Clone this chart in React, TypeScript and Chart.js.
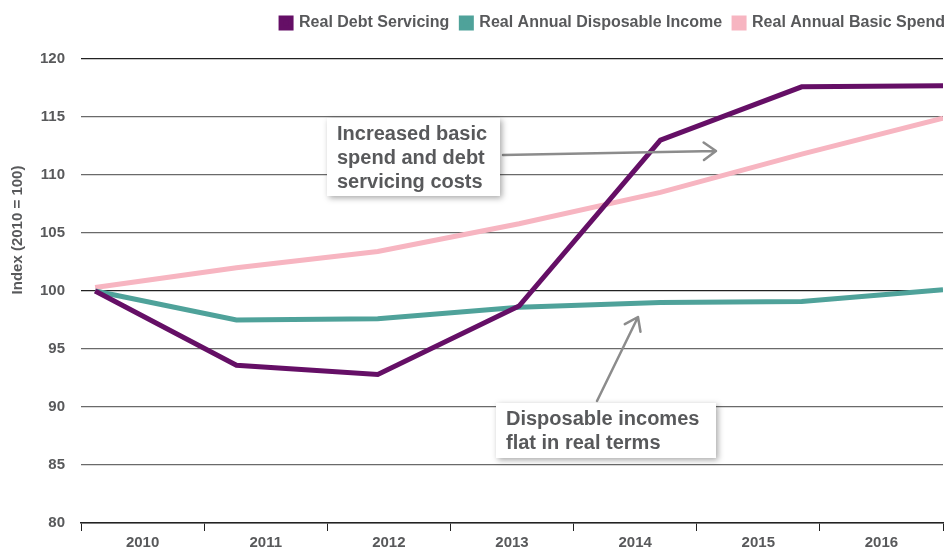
import React, { useEffect, useRef } from "react";
import { Chart, registerables } from "chart.js";

Chart.register(...registerables);

const years = ["2010", "2011", "2012", "2013", "2014", "2015", "2016"];
const debtServicing = [100, 93.6, 92.8, 98.7, 113.0, 117.6, 117.7];
const disposableIncome = [100, 97.5, 97.6, 98.6, 99.0, 99.1, 100.1];
const basicSpend = [100.3, 102.0, 103.4, 105.8, 108.5, 111.8, 114.9];
const seriesNames = ["Real Debt Servicing", "Real Annual Disposable Income", "Real Annual Basic Spend"];
const yTitle = "Index (2010 = 100)";
const noteTop = ["Increased basic", "spend and debt", "servicing costs"];
const noteBottom = ["Disposable incomes", "flat in real terms"];

const FONT = "'Liberation Sans', Arial, Helvetica, sans-serif";
const GREY = "#58595b";

const toPoints = (arr: number[]) => arr.map((v, i) => ({ x: i, y: v }));

function drawArrow(ctx: CanvasRenderingContext2D, x1: number, y1: number, x2: number, y2: number) {
  const ang = Math.atan2(y2 - y1, x2 - x1);
  const len = 15;
  const spread = 0.62;
  ctx.beginPath();
  ctx.moveTo(x1, y1);
  ctx.lineTo(x2, y2);
  ctx.moveTo(x2 - len * Math.cos(ang - spread), y2 - len * Math.sin(ang - spread));
  ctx.lineTo(x2, y2);
  ctx.lineTo(x2 - len * Math.cos(ang + spread), y2 - len * Math.sin(ang + spread));
  ctx.stroke();
}

function drawNote(ctx: CanvasRenderingContext2D, x: number, y: number, w: number, h: number, lines: string[], lineH: number) {
  ctx.save();
  ctx.shadowColor = "rgba(0,0,0,0.35)";
  ctx.shadowBlur = 6;
  ctx.shadowOffsetX = 2;
  ctx.shadowOffsetY = 2;
  ctx.fillStyle = "#ffffff";
  ctx.fillRect(x, y, w, h);
  ctx.restore();
  ctx.save();
  ctx.fillStyle = GREY;
  ctx.font = `bold 20px ${FONT}`;
  ctx.textBaseline = "middle";
  ctx.textAlign = "left";
  lines.forEach((t, i) => ctx.fillText(t, x + 10, y + 16 + i * lineH));
  ctx.restore();
}

const layoutPlugin = {
  id: "legendTweak",
  beforeInit(chart: any) {
    const lg = chart.legend;
    if (!lg) return;
    const origFit = lg.fit.bind(lg);
    lg.fit = function () {
      origFit();
      this.height += 18;
    };
    const origDraw = lg.draw.bind(lg);
    lg.draw = function () {
      const ctx = chart.ctx;
      ctx.save();
      ctx.translate(14, 0);
      origDraw();
      ctx.restore();
    };
  },
};

const annotationPlugin = {
  id: "notes",
  afterDraw(chart: any) {
    const ctx = chart.ctx as CanvasRenderingContext2D;
    ctx.save();
    ctx.strokeStyle = "#8c8c8c";
    ctx.lineWidth = 2.5;
    ctx.lineCap = "round";
    ctx.lineJoin = "round";
    drawArrow(ctx, 503, 155, 716, 151);
    drawArrow(ctx, 597, 401, 638, 317);
    ctx.restore();
    drawNote(ctx, 327, 118, 173, 78, noteTop, 24);
    drawNote(ctx, 496, 403, 220, 55, noteBottom, 24);
    // y-axis title
    ctx.save();
    ctx.translate(18, 230);
    ctx.rotate(-Math.PI / 2);
    ctx.fillStyle = GREY;
    ctx.font = `bold 15px ${FONT}`;
    ctx.textAlign = "center";
    ctx.textBaseline = "middle";
    ctx.fillText(yTitle, 0, 0);
    ctx.restore();
  },
};

export default function App() {
  const ref = useRef<HTMLCanvasElement>(null);
  useEffect(() => {
    document.body.style.margin = "0";
    const chart = new Chart(ref.current!, {
      type: "line",
      data: {
        labels: years,
        datasets: [
          { label: seriesNames[0], data: toPoints(debtServicing), borderColor: "#650f66", backgroundColor: "#650f66", xAxisID: "xd" },
          { label: seriesNames[1], data: toPoints(disposableIncome), borderColor: "#4fa29a", backgroundColor: "#4fa29a", xAxisID: "xd" },
          { label: seriesNames[2], data: toPoints(basicSpend), borderColor: "#f7b5c1", backgroundColor: "#f7b5c1", xAxisID: "xd" },
        ].map((d) => ({ ...d, borderWidth: 5, pointRadius: 0, tension: 0, fill: false })) as any,
      },
      options: {
        animation: false,
        responsive: false,
        layout: { padding: { left: 0, right: 1, top: 3, bottom: 0 } },
        plugins: {
          tooltip: { enabled: false },
          legend: {
            align: "end",
            labels: {
              boxWidth: 10,
              boxHeight: 10,
              padding: 12,
              color: GREY,
              font: { family: FONT, size: 16, weight: "bold" },
            },
          },
        },
        scales: {
          x: {
            type: "category",
            offset: true,
            afterFit: (s: any) => { s.height = 27; },
            grid: { drawOnChartArea: false, drawTicks: true, tickLength: 8, color: "#222", offset: true },
            border: { display: true, color: "#222", width: 1.5 },
            ticks: { color: GREY, font: { family: FONT, size: 15, weight: "bold" }, padding: 3 },
          },
          xd: {
            type: "linear",
            display: false,
            min: -0.1,
            max: 6,
          },
          y: {
            min: 80,
            max: 120,
            afterFit: (s: any) => { s.width = 81; },
            ticks: { stepSize: 5, color: GREY, font: { family: FONT, size: 15, weight: "bold" }, padding: 16 },
            grid: {
              drawTicks: false,
              color: (c: any) => (c.tick && (c.tick.value === 100 || c.tick.value === 120) ? "#222" : "#6a6a6a"),
              lineWidth: 1.2,
            },
            border: { display: false },
          },
        },
      },
      plugins: [layoutPlugin, annotationPlugin],
    } as any);
    return () => chart.destroy();
  }, []);
  return (
    <div style={{ position: "absolute", left: 0, top: 0, width: 944, height: 550 }}>
      <canvas ref={ref} width={944} height={550} style={{ width: 944, height: 550 }} />
    </div>
  );
}
